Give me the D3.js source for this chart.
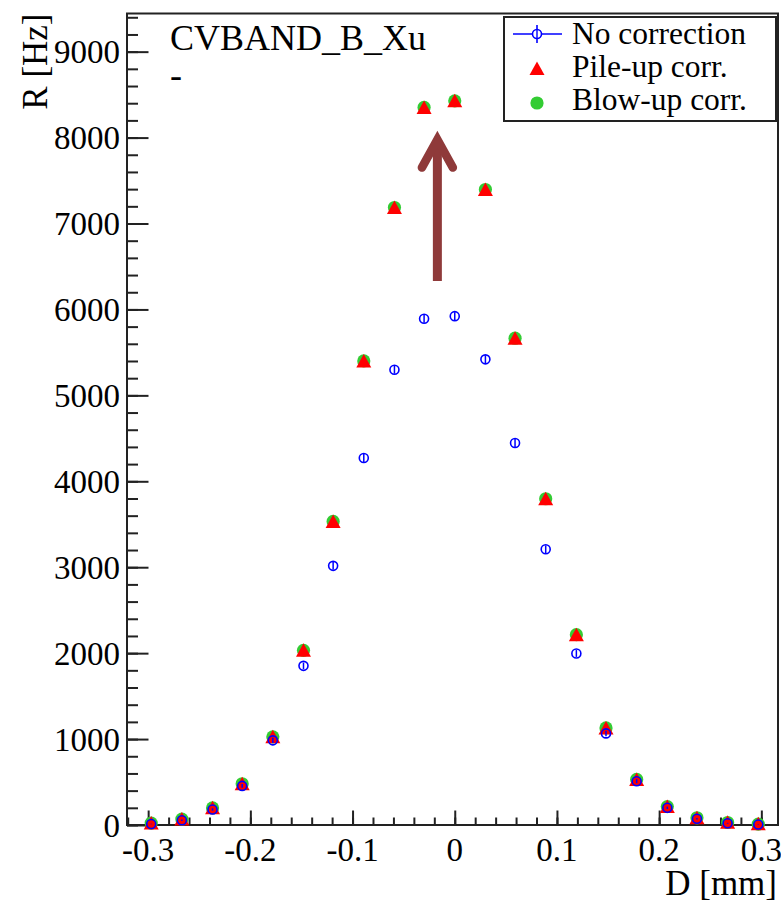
<!DOCTYPE html>
<html>
<head>
<meta charset="utf-8">
<script src="https://cdn.jsdelivr.net/npm/d3@7"></script>
<style>
  html, body { margin: 0; padding: 0; background: #ffffff; }
  svg { display: block; }
  text { font-family: "Liberation Serif", "DejaVu Serif", serif; fill: #000; }
</style>
</head>
<body>
<svg id="chart" width="781" height="902"></svg>
<script>
// Measured rate R versus position D, three data sets
const positions = [-0.297, -0.267, -0.237, -0.208, -0.178, -0.148, -0.119, -0.089, -0.059, -0.030, 0,
                   0.030, 0.059, 0.089, 0.119, 0.148, 0.178, 0.208, 0.237, 0.267, 0.297];
const noCorrection = [12, 55, 180, 455, 985, 1852, 3016, 4271, 5298, 5891, 5922,
                      5419, 4446, 3209, 1996, 1066, 510, 200, 72, 20, 5];
const noCorrectionErr = [4, 8, 14, 22, 30, 38, 44, 46, 46, 46, 46,
                         46, 46, 44, 40, 32, 24, 14, 9, 5, 3];
const pileUpCorr = [18, 65, 195, 475, 1020, 2027, 3527, 5395, 7180, 8345, 8422,
                    7390, 5659, 3791, 2209, 1124, 525, 210, 80, 26, 8];
const blowUpCorr = [22, 69, 199, 480, 1026, 2033, 3533, 5401, 7186, 8351, 8428,
                    7396, 5665, 3797, 2215, 1130, 530, 214, 84, 29, 10];

const xTicks = [-0.3, -0.2, -0.1, 0, 0.1, 0.2, 0.3];
const xTickLabels = ["-0.3", "-0.2", "-0.1", "0", "0.1", "0.2", "0.3"];
const yTicks = [0, 1000, 2000, 3000, 4000, 5000, 6000, 7000, 8000, 9000];
const legendLabels = ["No correction", "Pile-up corr.", "Blow-up corr."];
const titleLines = ["CVBAND_B_Xu", "-"];
const arrowX = [-0.017];
const arrowY = [6330, 8000];

const frame = { left: 127, right: 778, top: 13.5, bottom: 825 };
const colors = { blue: "#0000ff", red: "#ff0000", green: "#33cc33", arrow: "#8f3a3a", axis: "#222" };

const svg = d3.select("#chart");

const x = d3.scaleLinear().domain([-0.3207, 0.3163]).range([frame.left, frame.right]);
const y = d3.scaleLinear().domain([0, 9444]).range([frame.bottom, frame.top]);

// frame
svg.append("rect")
  .attr("x", frame.left).attr("y", frame.top)
  .attr("width", frame.right - frame.left).attr("height", frame.bottom - frame.top)
  .attr("fill", "none").attr("stroke", colors.axis).attr("stroke-width", 2);

// x axis: major ticks with labels, minor ticks every 0.02
const xMinor = d3.range(-32, 32).map(i => i * 0.02).filter(v => v >= x.domain()[0] && v <= x.domain()[1]);
const gx = svg.append("g").attr("transform", `translate(0,${frame.bottom})`);
gx.call(d3.axisTop(x).tickValues(xMinor).tickSize(7.5).tickFormat(""))
  .call(g => g.select(".domain").remove())
  .call(g => g.selectAll("line").attr("stroke", colors.axis).attr("stroke-width", 2));
gx.append("g")
  .call(d3.axisTop(x).tickValues(xTicks).tickSize(14.5).tickFormat(""))
  .call(g => g.select(".domain").remove())
  .call(g => g.selectAll("line").attr("stroke", colors.axis).attr("stroke-width", 2));
gx.selectAll(".xlab").data(xTicks).enter().append("text")
  .attr("class", "xlab")
  .attr("x", d => x(d)).attr("y", 36)
  .attr("text-anchor", "middle").attr("font-size", 33)
  .text((d, i) => xTickLabels[i]);

// y axis: major ticks every 1000, minor every 200
const yMinor = d3.range(0, 48).map(i => i * 200).filter(v => v <= y.domain()[1]);
const gy = svg.append("g").attr("transform", `translate(${frame.left},0)`);
gy.call(d3.axisRight(y).tickValues(yMinor).tickSize(11).tickFormat(""))
  .call(g => g.select(".domain").remove())
  .call(g => g.selectAll("line").attr("stroke", colors.axis).attr("stroke-width", 2));
gy.append("g")
  .call(d3.axisRight(y).tickValues(yTicks).tickSize(21.5).tickFormat(""))
  .call(g => g.select(".domain").remove())
  .call(g => g.selectAll("line").attr("stroke", colors.axis).attr("stroke-width", 2));
gy.selectAll(".ylab").data(yTicks).enter().append("text")
  .attr("class", "ylab")
  .attr("x", -7).attr("y", d => y(d) + 11.5)
  .attr("text-anchor", "end").attr("font-size", 33)
  .text(d => d3.format("d")(d));

// axis titles
svg.append("text")
  .attr("transform", `translate(47,${frame.top}) rotate(-90)`)
  .attr("text-anchor", "end").attr("font-size", 35)
  .text("R [Hz]");
svg.append("text")
  .attr("x", frame.right - 1).attr("y", 895)
  .attr("text-anchor", "end").attr("font-size", 35)
  .text("D [mm]");

// title block
svg.selectAll(".title").data(titleLines).enter().append("text")
  .attr("class", "title")
  .attr("x", 170).attr("y", (d, i) => 50 + i * 37)
  .attr("font-size", 36)
  .text(d => d);

// markers
const triPath = "M0,-7.5L7.5,6L-7.5,6Z";
const pts = positions.map((p, i) => ({ x: p, n: noCorrection[i], e: noCorrectionErr[i], p: pileUpCorr[i], b: blowUpCorr[i] }));

svg.append("g").selectAll("circle").data(pts).enter().append("circle")
  .attr("cx", d => x(d.x)).attr("cy", d => y(d.b)).attr("r", 6.6)
  .attr("fill", colors.green);

svg.append("g").selectAll("path").data(pts).enter().append("path")
  .attr("d", triPath)
  .attr("transform", d => `translate(${x(d.x)},${y(d.p)})`)
  .attr("fill", colors.red);

const blue = svg.append("g");
blue.selectAll("line").data(pts).enter().append("line")
  .attr("x1", d => x(d.x)).attr("x2", d => x(d.x))
  .attr("y1", d => y(d.n - d.e)).attr("y2", d => y(d.n + d.e))
  .attr("stroke", colors.blue).attr("stroke-width", 1.5);
blue.selectAll("circle").data(pts).enter().append("circle")
  .attr("cx", d => x(d.x)).attr("cy", d => y(d.n)).attr("r", 4.5)
  .attr("fill", "none").attr("stroke", colors.blue).attr("stroke-width", 1.6);

// arrow pointing from the uncorrected peak up to the corrected one
const ax = x(arrowX[0]), ay0 = y(arrowY[0]), ay1 = y(arrowY[1]);
svg.append("line")
  .attr("x1", ax).attr("x2", ax).attr("y1", ay0).attr("y2", ay1 + 4)
  .attr("stroke", colors.arrow).attr("stroke-width", 9);
svg.append("path")
  .attr("d", `M${ax - 15.5},${ay1 + 30}L${ax},${ay1 + 2}L${ax + 15.5},${ay1 + 30}`)
  .attr("fill", "none").attr("stroke", colors.arrow).attr("stroke-width", 8.5)
  .attr("stroke-linecap", "round").attr("stroke-linejoin", "miter");

// legend
const lg = svg.append("g");
lg.append("rect")
  .attr("x", 504).attr("y", 17).attr("width", 272).attr("height", 104)
  .attr("fill", "#fff").attr("stroke", colors.axis).attr("stroke-width", 2);
const rowY = [34, 69, 103];
const mx = 537;
lg.append("line").attr("x1", 513).attr("x2", 562).attr("y1", rowY[0]).attr("y2", rowY[0])
  .attr("stroke", colors.blue).attr("stroke-width", 1.6);
lg.append("line").attr("x1", mx).attr("x2", mx).attr("y1", rowY[0] - 9).attr("y2", rowY[0] + 9)
  .attr("stroke", colors.blue).attr("stroke-width", 1.6);
lg.append("circle").attr("cx", mx).attr("cy", rowY[0]).attr("r", 4.5)
  .attr("fill", "#fff").attr("stroke", colors.blue).attr("stroke-width", 1.6);
lg.append("line").attr("x1", mx).attr("x2", mx).attr("y1", rowY[0] - 4).attr("y2", rowY[0] + 4)
  .attr("stroke", colors.blue).attr("stroke-width", 1.4);
lg.append("path").attr("d", triPath).attr("transform", `translate(${mx},${rowY[1]})`).attr("fill", colors.red);
lg.append("circle").attr("cx", mx).attr("cy", rowY[2]).attr("r", 6.6).attr("fill", colors.green);
lg.selectAll(".lt").data(legendLabels).enter().append("text")
  .attr("class", "lt")
  .attr("x", 572).attr("y", (d, i) => [44, 77, 110][i])
  .attr("font-size", 31.5)
  .text(d => d);
</script>
</body>
</html>
